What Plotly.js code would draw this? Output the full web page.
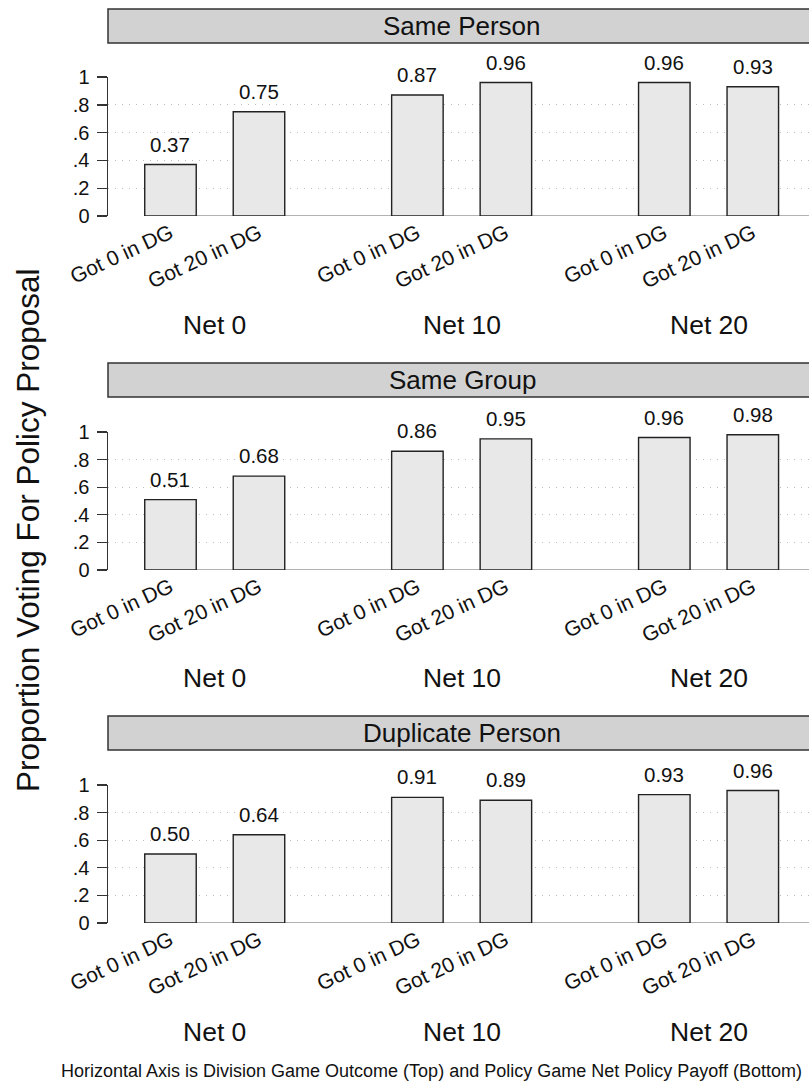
<!DOCTYPE html>
<html>
<head>
<meta charset="utf-8">
<script src="https://cdn.plot.ly/plotly-3.0.1.min.js"></script>
<style>html,body{margin:0;padding:0;background:#fff;}#chart{width:809px;height:1084px;}</style>
</head>
<body>
<div id="chart"></div>
<script>
// ---- data ----
const panelTitles = ["Same Person", "Same Group", "Duplicate Person"];
const groupLabels = ["Net 0", "Net 10", "Net 20"];
const barLabels = ["Got 0 in DG", "Got 20 in DG"];
const samePerson = [0.37, 0.75, 0.87, 0.96, 0.96, 0.93];
const sameGroup = [0.51, 0.68, 0.86, 0.95, 0.96, 0.98];
const duplicatePerson = [0.50, 0.64, 0.91, 0.89, 0.93, 0.96];
const yTickVals = [0, 0.2, 0.4, 0.6, 0.8, 1];
const yTickText = ["0", ".2", ".4", ".6", ".8", "1"];
const yTitle = "Proportion Voting For Policy Proposal";
const caption = "Horizontal Axis is Division Game Outcome (Top) and Policy Game Net Policy Payoff (Bottom)";

// ---- layout helpers ----
const W = 809, H = 1084;
const FONT = "Liberation Sans, Arial, sans-serif";
const groupGap = 2.79;
const xs = [], xt = [];
groupLabels.forEach((g, gi) => barLabels.forEach((b, bi) => { xs.push(gi * groupGap + bi); xt.push(b); }));
const xRange = [-0.706, 7.215];
const panels = [samePerson, sameGroup, duplicatePerson];
// pixel geometry per panel: [y of value 1, y of value 0, header top, header bottom, net label y]
const geo = [[77, 216, 9, 43, 325], [432, 570, 363, 397, 678], [785, 923, 716, 750, 1032]];
const py = p => 1 - p / H;

const data = [], annotations = [], shapes = [];
const layout = {
  width: W, height: H, margin: {l: 0, r: 0, t: 0, b: 0},
  paper_bgcolor: "#fff", plot_bgcolor: "#fff", showlegend: false,
  font: {family: FONT, color: "#111"}, bargap: 0
};

panels.forEach((vals, i) => {
  const n = i === 0 ? "" : String(i + 1);
  const g = geo[i];
  data.push({
    type: "bar", x: xs, y: vals, width: 0.582,
    xaxis: "x" + n, yaxis: "y" + n,
    marker: {color: "#e8e8e8", line: {color: "#222", width: 1.4}},
    hoverinfo: "skip", cliponaxis: false
  });
  layout["xaxis" + n] = {
    domain: [108 / W, 1], range: xRange, anchor: "y" + n,
    tickvals: xs, ticktext: xt, tickangle: -25, ticks: "", showgrid: false,
    zeroline: false, showline: false, tickfont: {size: 21, family: FONT, color: "#111"}, fixedrange: true
  };
  layout["yaxis" + n] = {
    domain: [py(g[1]), py(g[0])], range: [0, 1], anchor: "x" + n,
    tickvals: yTickVals, ticktext: yTickText, ticks: "outside", ticklen: 10, tickwidth: 1.4, tickcolor: "#333",
    ticklabelstandoff: 3,
    showline: true, linecolor: "#333", linewidth: 1.5, zeroline: false,
    showgrid: true, gridcolor: "#bdbdbd", griddash: "1px,6px", gridwidth: 1.2,
    tickfont: {size: 20, family: FONT, color: "#111"}, fixedrange: true
  };
  // baseline
  shapes.push({type: "line", xref: "x" + n, yref: "y" + n, x0: xs[0], x1: xRange[1], y0: 0, y1: 0,
    line: {color: "#999", width: 1.5}, layer: "below"});
  // header strip
  shapes.push({type: "rect", xref: "paper", yref: "paper", x0: 108 / W, x1: 1.05, y0: py(g[3]), y1: py(g[2]),
    fillcolor: "#d2d2d2", line: {color: "#333", width: 1.5}});
  annotations.push({xref: "paper", yref: "paper", x: 462 / W, y: py((g[2] + g[3]) / 2), text: panelTitles[i],
    showarrow: false, xanchor: "center", yanchor: "middle", font: {size: 26, family: FONT, color: "#111"}});
  // value labels
  vals.forEach((v, k) => annotations.push({xref: "x" + n, yref: "y" + n, x: xs[k], y: v, text: v.toFixed(2),
    showarrow: false, xanchor: "center", yanchor: "bottom", yshift: 7, font: {size: 20.5, family: FONT, color: "#111"}}));
  // group labels
  groupLabels.forEach((gl, gi) => annotations.push({xref: "x" + n, yref: "paper", x: gi * groupGap + 0.5, y: py(g[4]),
    text: gl, showarrow: false, xanchor: "center", yanchor: "middle", font: {size: 26.5, family: FONT, color: "#111"}}));
});

annotations.push({xref: "paper", yref: "paper", x: 28 / W, y: py(530), text: yTitle, textangle: -90,
  showarrow: false, xanchor: "center", yanchor: "middle", font: {size: 31.5, family: FONT, color: "#111"}});
annotations.push({xref: "paper", yref: "paper", x: 431 / W, y: py(1071), text: caption,
  showarrow: false, xanchor: "center", yanchor: "middle", font: {size: 18, family: FONT, color: "#111"}});

layout.annotations = annotations;
layout.shapes = shapes;
Plotly.newPlot("chart", data, layout, {staticPlot: true, displayModeBar: false});
</script>
</body>
</html>
